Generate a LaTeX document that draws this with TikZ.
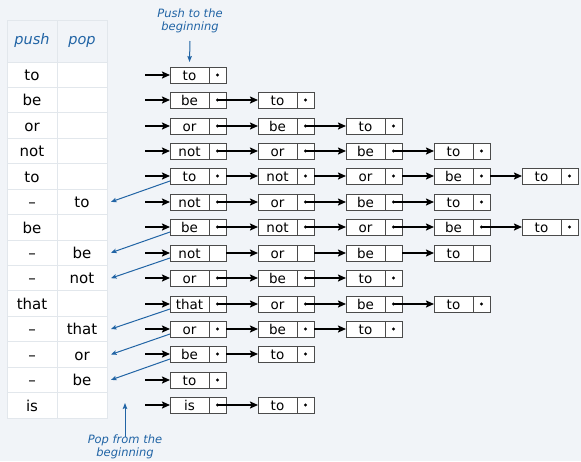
\documentclass[tikz,border=0pt]{standalone}
\usepackage{fontspec}
\setmainfont{DejaVu Sans}
\usetikzlibrary{arrows.meta}
\definecolor{bg}{RGB}{241,244,248}
\definecolor{gridc}{RGB}{226,231,236}
\definecolor{note}{RGB}{33,100,165}
\definecolor{boxline}{RGB}{75,75,75}
\tikzset{
  lab/.style={draw=boxline, fill=white, line width=1pt, minimum width=39pt, minimum height=16pt,
    inner sep=0pt, outer sep=0pt, text height=10pt, text depth=0pt, font=\fontsize{13.5}{13.5}\selectfont},
  ptr/.style={draw=boxline, fill=white, line width=1pt, minimum width=17pt, minimum height=16pt,
    inner sep=0pt, outer sep=0pt, anchor=west},
  link/.style={line width=1.8pt, -{Stealth[length=8pt,width=7pt,inset=1.5pt]}},
  cell/.style={draw=gridc, fill=white, line width=1pt, minimum width=50pt, minimum height=25.43pt,
    inner sep=0pt, outer sep=0pt, text height=11.5pt, text depth=0pt, font=\fontsize{15}{15}\selectfont},
  headcell/.style={draw=gridc, fill=bg, line width=1pt, minimum width=50pt, minimum height=42pt,
    inner sep=0pt, outer sep=0pt, text=note, text height=10pt, text depth=3pt, font=\fontsize{14.5}{14.5}\selectfont\itshape},
  notetext/.style={text=note, align=center, inner sep=0pt, font=\fontsize{11.5}{12.5}\selectfont\itshape},
  notearrow/.style={draw=note, line width=1pt, -{Stealth[length=6pt,width=4.5pt,inset=1pt]}},
  poparrow/.style={draw=note, line width=1pt, -{Stealth[length=5.5pt,width=4.5pt,inset=1pt]}},
}
\newcommand\llrow[4]{%
  \pgfmathsetmacro\yy{round(62+25.43*(#1-0.5))}
  \coordinate (in#1) at (145,\yy);
  \foreach \w [count=\c, remember=\c as \lc (initially 0)] in {#4} {
    \pgfmathsetmacro\xx{189.5+88*(\c-1)}
    \node[lab] (n#1-\c) at (\xx,\yy) {\w};
    \node[ptr] (p#1-\c) at (n#1-\c.east) {};
    \ifnum#3=1 \fill (p#1-\c.center) circle (1.6pt);\fi
    \ifnum\c>1 \draw[link] (p#1-\lc.#2) -- (n#1-\c.west);\fi
  }
  \draw[link] (in#1) -- (n#1-1.west);
}
\begin{document}
\begin{tikzpicture}[x=1pt,y=-1pt]
\fill[bg] (0,0) rectangle (581,461);
\useasboundingbox (0,0) rectangle (581,461);
% table
\node[headcell] (h1) at (32,41) {push};
\node[headcell] (h2) at (82,41) {pop};
\foreach \w [count=\r] in {to,be,or,not,to,–,be,–,–,that,–,–,–,is}
  \node[cell] (t\r-1) at (32,{62+25.43*(\r-0.5)}) {\w};
\foreach \w [count=\r] in {,,,,,to,,be,not,,that,or,be,}
  \node[cell] (t\r-2) at (82,{62+25.43*(\r-0.5)}) {\w};
% lists
\llrow{1}{center}{1}{to}
\llrow{2}{center}{1}{be,to}
\llrow{3}{center}{1}{or,be,to}
\llrow{4}{center}{1}{not,or,be,to}
\llrow{5}{east}{1}{to,not,or,be,to}
\llrow{6}{center}{1}{not,or,be,to}
\llrow{7}{center}{1}{be,not,or,be,to}
\llrow{8}{east}{0}{not,or,be,to}
\llrow{9}{center}{1}{or,be,to}
\llrow{10}{center}{1}{that,or,be,to}
\llrow{11}{east}{1}{or,be,to}
\llrow{12}{east}{1}{be,to}
\llrow{13}{center}{1}{to}
\llrow{14}{center}{1}{is,to}
% pop arrows
\foreach \a/\b in {5/6,7/8,8/9,10/11,11/12,12/13}
  \draw[poparrow] ([yshift=3pt]n\a-1.south west) -- ([xshift=4pt]t\b-2.east);
% notes
\node[notetext] (pushnote) at (190,21) {Push to the\\beginning};
\coordinate (pushfrom) at (190,41);
\draw[notearrow] (pushfrom) -- ([yshift=5pt]n1-1.north);
\node[notetext] (popnote) at (125,447) {Pop from the\\beginning};
\coordinate (popto) at (125,403);
\draw[notearrow] ([yshift=-2pt]popnote.north) -- (popto);
\end{tikzpicture}
\end{document}
